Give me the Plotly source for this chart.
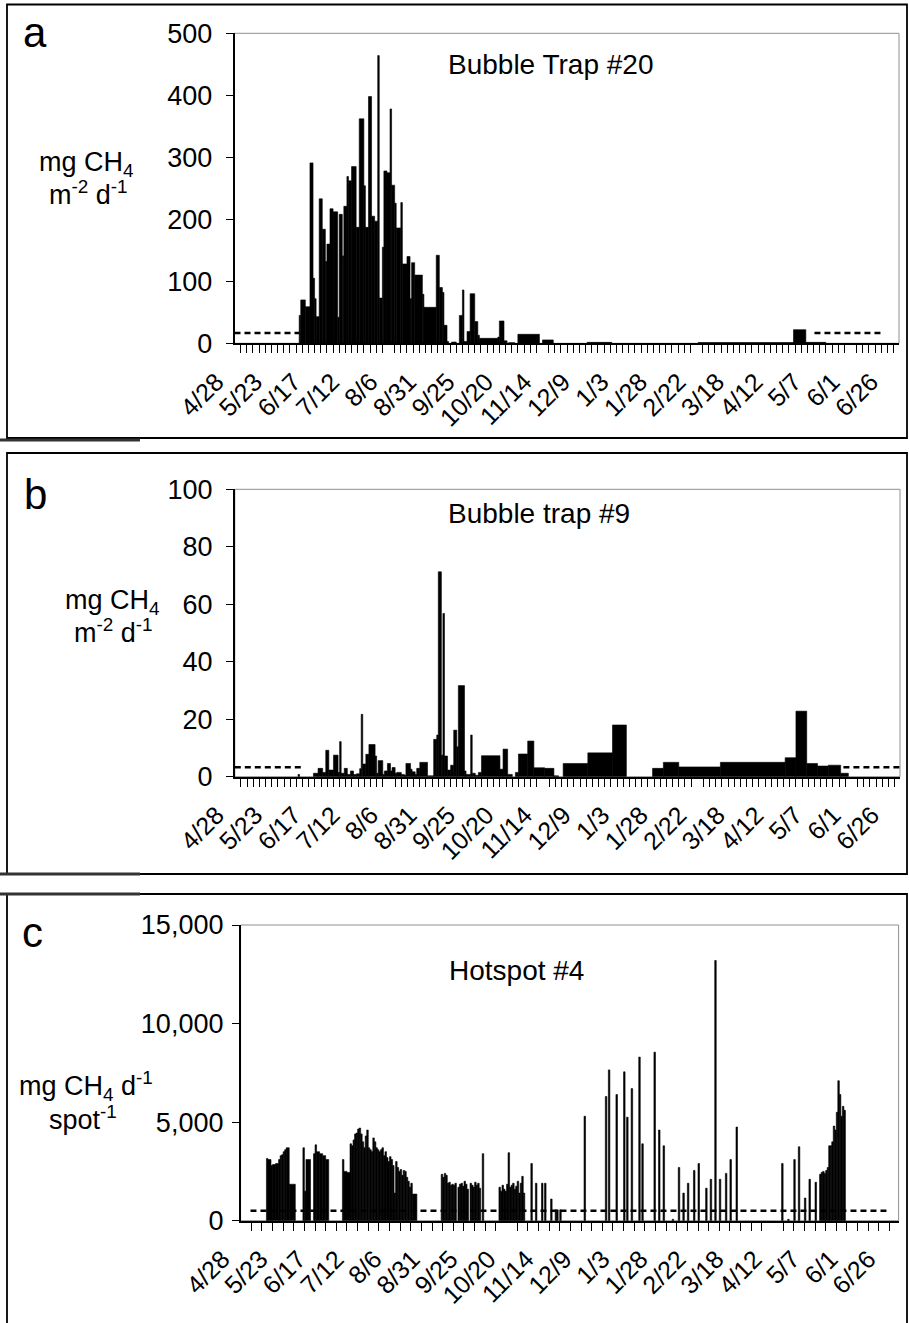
import pandas as pd
import plotly.graph_objects as go

W, H = 909, 1323
START = pd.Timestamp("2007-04-28")
DAY_MS = 86400000

# ---------------- data (day of study since 4/28, interval boundaries; value per interval) ----
a_bounds = [42, 43, 46, 49, 51, 52, 53, 55, 57, 59, 60, 62, 64, 67, 68, 70, 71, 73, 74, 76, 79,
            81, 84, 85, 87, 89, 91, 93, 94, 96, 97, 99, 101, 102, 104, 105, 108, 109, 112, 114,
            115, 117, 122, 123, 131, 133, 135, 136, 138, 139, 141, 144, 146, 148, 149, 151, 153,
            156, 158, 159, 171, 172, 175, 177, 178, 182, 184, 198, 200, 207, 229, 245, 301, 363,
            371, 384]
a_vals = [45, 70, 59, 291, 105, 72, 43, 233, 184, 132, 160, 217, 212, 42, 208, 141, 221, 269, 262,
          285, 187, 362, 254, 187, 398, 205, 197, 464, 73, 155, 278, 275, 378, 255, 226, 186, 227,
          128, 140, 72, 130, 110, 79, 58, 142, 90, 82, 29, 3, 0, 2, 0, 45, 86, 3, 19, 80, 35, 13,
          8, 10, 36, 4, 0, 1, 0, 14.5, 0, 5.5, 0, 1.5, 0, 1.2, 22, 1.5]
a_ref_days = [[0, 42.2], [376.6, 422.0]]
a_ref_val = 16.5

b_bounds = [41, 42, 51, 54, 57, 59, 61, 64, 67, 68, 69, 71, 73, 75, 77, 79, 81, 82, 83, 85, 87,
            91, 92, 93, 96, 97, 99, 101, 102, 104, 105, 108, 110, 111, 114, 115, 117, 118, 120,
            125, 129, 131, 132, 134, 135, 136, 138, 140, 142, 144, 145, 149, 150, 153, 154, 156,
            158, 160, 172, 174, 177, 180, 182, 184, 190, 194, 201, 207, 210, 213, 229, 245, 254,
            271, 278, 288, 315, 357, 364, 371, 378, 385, 393, 398]
b_vals = [0.8, 0, 1.2, 2.9, 1.5, 9.2, 2.3, 7.5, 1.5, 12.2, 1.2, 2.9, 0.8, 2.0, 0.8, 1.0, 2.8, 21.7,
          4.4, 7.8, 11.2, 7.2, 1.2, 5.6, 0.8, 2.0, 4.6, 2.0, 3.2, 1.2, 1.5, 0.8, 0.5, 4.6, 2.6, 1.7,
          0.8, 2.9, 5.0, 0.3, 13.0, 14.5, 71.3, 7.5, 56.8, 7.2, 2.3, 4.0, 16.2, 10.4, 31.7, 2.0,
          0.8, 14.5, 1.2, 0.5, 1.5, 7.3, 2.6, 9.6, 0.8, 0, 1.5, 7.9, 12.4, 3.1, 2.9, 0.3, 0, 4.6,
          8.3, 18.0, 0, 2.9, 5.0, 3.4, 5.0, 6.6, 22.8, 4.6, 3.7, 4.0, 1.2]
b_ref_days = [[0, 45.2], [394.8, 432]]
b_ref_val = 3.3

c_bounds = [17, 18, 20, 21, 23, 25, 26, 27, 28, 29, 30, 32, 36, 41, 42, 43, 46, 48, 49, 50, 52, 54,
            56, 58, 67, 68, 70, 72, 73, 74, 75, 76, 77, 78, 79, 80, 81, 82, 83, 84, 85, 86, 87, 88,
            89, 90, 91, 92, 93, 94, 95, 96, 97, 98, 99, 100, 101, 102, 103, 104, 105, 106, 107,
            108, 109, 110, 111, 112, 113, 116, 132, 133, 134, 135, 136, 137, 138, 139, 140, 141,
            142, 143, 144, 145, 146, 147, 148, 149, 150, 151, 152, 153, 154, 155, 156, 157, 158,
            159, 160, 170, 171, 172, 173, 174, 175, 176, 177, 178, 179, 180, 181, 182, 183, 184,
            185, 186, 187, 191, 192, 194, 195, 198, 199, 200, 201, 204, 205, 207, 208, 209, 210,
            211, 226, 227, 240, 241, 242, 243, 247, 248, 252, 253, 254, 255, 257, 258, 262, 263,
            264, 265, 272, 273, 275, 276, 278, 279, 284, 285, 288, 289, 291, 292, 294, 295, 298,
            299, 301, 302, 306, 307, 309, 310, 312, 313, 315, 316, 319, 320, 322, 323, 326, 327,
            356, 357, 360, 361, 364, 365, 367, 368, 371, 372, 374, 375, 378, 379, 381, 382, 383,
            384, 385, 386, 387, 388, 389, 390, 391, 392, 393, 394, 395, 396, 397, 398]
c_vals = [3150, 3100, 2800, 2850, 2900, 3100, 3300, 3350, 3500, 3600, 3700, 1850, 0, 3700, 1500,
          3100, 0, 3400, 3850, 3500, 3400, 3300, 3100, 0, 3100, 2500, 2450, 3900, 3800, 4100, 4400,
          4450, 4650, 4700, 4400, 4000, 3700, 4300, 4600, 3700, 3600, 3500, 4200, 4000, 3700, 3600,
          3500, 3600, 3700, 3300, 3500, 3200, 3000, 3250, 3100, 2800, 1400, 3000, 2700, 2500, 2600,
          2300, 2550, 2500, 2200, 2000, 1700, 1900, 1350, 0, 2350, 2200, 2400, 2300, 1900, 1950,
          1800, 1850, 1800, 1900, 0, 1700, 1850, 1900, 1750, 2000, 1850, 1600, 0, 1900, 1800, 1700,
          1950, 1800, 1900, 1650, 0, 3400, 0, 1700, 1500, 1800, 1600, 1500, 1850, 3450, 1700, 1800,
          1900, 1600, 1750, 2000, 1400, 1900, 2250, 1400, 0, 2900, 0, 1900, 0, 1900, 0, 1900, 0,
          1100, 0, 550, 550, 0, 550, 0, 5300, 0, 6300, 0, 7650, 0, 6400, 0, 7550, 0, 5250, 0, 6700,
          0, 8300, 0, 3900, 0, 8550, 0, 4600, 0, 3800, 0, 70, 0, 2700, 0, 1400, 0, 1900, 0, 2550,
          0, 2900, 0, 1650, 0, 2100, 0, 13200, 0, 2100, 0, 2400, 0, 3100, 0, 4750, 0, 2900, 0, 70,
          0, 3100, 0, 3750, 0, 1150, 0, 2100, 0, 1950, 0, 2350, 2450, 2500, 2400, 2550, 2700, 3800,
          3800, 4000, 4800, 4600, 5500, 7100, 6400, 5300, 5800, 5600]
c_ref_days = [[6.5, 427]]
c_ref_val = 500

x_tick_start = "2007-04-28"
x_label_step_days = 25

panels = [
    dict(key="a", bounds=a_bounds, vals=a_vals, ref=a_ref_days, refv=a_ref_val,
         yr=[0, 500], dtick=100, fmt="", minor_days=4, end="2008-07-02 12:00", ystand=8,
         x0=234.5, x1=899, yt=33.3, yb=343.3),
    dict(key="b", bounds=b_bounds, vals=b_vals, ref=b_ref_days, refv=b_ref_val,
         yr=[0, 100], dtick=20, fmt="", minor_days=4, end="2008-07-02 12:00", ystand=8,
         x0=234.8, x1=900, yt=489.3, yb=776.7),
    dict(key="c", bounds=c_bounds, vals=c_vals, ref=c_ref_days, refv=c_ref_val,
         yr=[0, 15000], dtick=5000, fmt=",", minor_days=7, end="2008-07-04", ystand=3,
         x0=240.6, x1=898.6, yt=925, yb=1220.7),
]

def fx(x):
    return x / W

def fy(y):
    return 1 - y / H

FONT = "Liberation Sans, Arial, sans-serif"
fig = go.Figure()
layout = dict(width=W, height=H, margin=dict(l=0, r=0, t=0, b=0, autoexpand=False),
              paper_bgcolor="white", plot_bgcolor="white", showlegend=False,
              barmode="overlay", font=dict(family=FONT, color="black"))
shapes = []

for i, p in enumerate(panels):
    n = "" if i == 0 else str(i + 1)
    xa, ya = "x" + n, "y" + n
    b, v = p["bounds"], p["vals"]
    xs, ys, ws = [], [], []
    for k in range(len(v)):
        if v[k] > 0:
            xs.append(START + pd.Timedelta(days=b[k]))
            ys.append(v[k])
            ws.append((b[k + 1] - b[k]) * DAY_MS)
    fig.add_trace(go.Bar(x=xs, y=ys, width=ws, offset=0, xaxis=xa, yaxis=ya,
                         marker=dict(color="black", line=dict(width=0.6, color="black")),
                         hoverinfo="skip"))
    lx, ly = [], []
    for seg in p["ref"]:
        lx += [START + pd.Timedelta(days=seg[0]), START + pd.Timedelta(days=seg[1]), None]
        ly += [p["refv"], p["refv"], None]
    fig.add_trace(go.Scatter(x=lx, y=ly, mode="lines", xaxis=xa, yaxis=ya,
                             line=dict(color="black", width=2.5, dash="6px,4px"),
                             hoverinfo="skip"))
    layout["xaxis" + n] = dict(
        domain=[fx(p["x0"]), fx(p["x1"])], anchor=ya, type="date", automargin=False,
        range=[x_tick_start, p["end"]], tick0=x_tick_start,
        dtick=x_label_step_days * DAY_MS, tickformat="%-m/%-d", tickangle=-45,
        ticks="", ticklabelstandoff=12, ticklabelshift=-18,
        showgrid=False, zeroline=False,
        showline=True, linecolor="black", linewidth=2,
        tickfont=dict(family=FONT, size=25, color="black"),
        minor=dict(ticks="outside", ticklen=8, tickwidth=1, tickcolor="black",
                   dtick=p["minor_days"] * DAY_MS, tick0=x_tick_start, showgrid=False))
    layout["yaxis" + n] = dict(
        domain=[fy(p["yb"]), fy(p["yt"])], anchor=xa, range=p["yr"], dtick=p["dtick"],
        tickformat=p["fmt"], ticks="outside", ticklen=7, tickwidth=1, tickcolor="black",
        showline=True, linecolor="black", linewidth=1.5, showgrid=False, zeroline=False,
        automargin=False, ticklabelstandoff=p["ystand"],
        tickfont=dict(family=FONT, size=27, color="black"))
    shapes.append(dict(type="rect", xref="paper", yref="paper", layer="below",
                       x0=fx(p["x0"]), x1=fx(p["x1"]), y0=fy(p["yb"]), y1=fy(p["yt"]),
                       line=dict(color="#909090", width=1)))

# panel frames
for (t, bt) in [(4.5, 438), (453, 874), (894, 1340)]:
    shapes.append(dict(type="rect", xref="paper", yref="paper", x0=fx(7), x1=fx(907),
                       y0=fy(bt), y1=fy(t), line=dict(color="black", width=1.8)))
for yy in [440, 874, 894]:
    shapes.append(dict(type="line", xref="paper", yref="paper", x0=0, x1=fx(140),
                       y0=fy(yy), y1=fy(yy), line=dict(color="#333", width=3)))
layout["shapes"] = shapes

ann = []
def add_text(txt, x, y, size, xanchor="center", yanchor="middle", align="center"):
    ann.append(dict(text=txt, x=fx(x), y=fy(y), xref="paper", yref="paper", showarrow=False,
                    xanchor=xanchor, yanchor=yanchor, align=align, borderpad=0,
                    font=dict(family=FONT, size=size, color="black")))

add_text("a", 22, 32, 42, xanchor="left")
add_text("b", 23, 494, 42, xanchor="left")
add_text("c", 21, 932, 42, xanchor="left")
add_text("Bubble Trap #20", 551, 64, 28)
add_text("Bubble trap #9", 539, 513, 28)
add_text("Hotspot #4", 516, 971, 28)
add_text("mg CH<sub>4</sub>", 86, 164, 27)
add_text("m<sup>-2</sup> d<sup>-1</sup>", 88, 193, 27)
add_text("mg CH<sub>4</sub>", 112, 602, 27)
add_text("m<sup>-2</sup> d<sup>-1</sup>", 113, 631, 27)
add_text("mg CH<sub>4</sub> d<sup>-1</sup>", 86, 1086, 27)
add_text("spot<sup>-1</sup>", 83, 1118, 27)
layout["annotations"] = ann

fig.update_layout(**layout)
fig.write_html("out.html", config={"displayModeBar": False},
               post_script="document.body.style.margin='0';")
